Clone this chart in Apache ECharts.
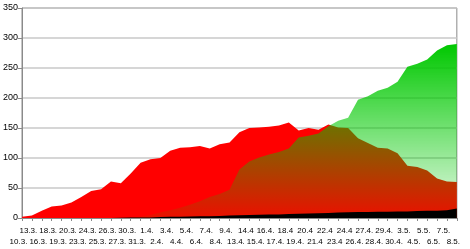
<!DOCTYPE html>
<html><head><meta charset="utf-8">
<script src="https://cdn.jsdelivr.net/npm/echarts@6/dist/echarts.min.js"></script>
<style>html,body{margin:0;padding:0;background:#fff}#c{width:470px;height:249px}</style>
</head><body><div id="c"></div>
<script>
var categories = ["10.3.","13.3.","16.3.","18.3.","19.3.","20.3.","23.3.","24.3.","25.3.","26.3.","27.3.","30.3.","31.3.","1.4.","2.4.","3.4.","4.4.","5.4.","6.4.","7.4.","8.4.","9.4.","13.4.","14.4","15.4.","16.4.","17.4.","18.4","19.4.","20.4","21.4","22.4","23.4","24.4","26.4.","27.4.","28.4.","29.4.","30.4.","3.5.","4.5.","5.5.","6.5.","7.5.","8.5."];
var redValues = [2,4,12,19,21,26,35,45,48,61,58,74,92,98,100,112,117,118,120,116,123,126,143,150,151,152,154,159,146,150,147,156,151,150,133,125,117,116,108,87,85,79,66,61,60];
var greenValues = [0,0,0,0,0,0,0,0,0,0,0,0,2,5,9,13,17,22,28,35,40,47,81,94,101,106,110,116,134,137,141,153,162,167,197,203,212,217,227,252,257,264,279,288,290];
var blackValues = [0,0,0,0,0,0,0,0,0,0,0.5,1,1,1,1.5,2,2,2.5,3,3,3.5,4,4.5,5,5.5,6,6,6.5,7,7.5,8,8.5,9,9.5,10,10,10.5,10.5,11,11,11.5,12,12,13,16];
var yTicks = [0,50,100,150,200,250,300,350];

var chart = echarts.init(document.getElementById('c'), null, {renderer:'canvas'});
chart.setOption({
  animation:false,
  grid:{left:22,right:8,top:8,bottom:31,show:true,borderColor:'#8a8a8a',borderWidth:1,backgroundColor:'transparent'},
  xAxis:{type:'category',data:categories,boundaryGap:false,
    axisLine:{lineStyle:{color:'#8a8a8a',width:1}},
    axisTick:{show:true,interval:0,length:3,lineStyle:{color:'#8a8a8a'}},
    axisLabel:{interval:0,fontSize:8,fontFamily:'Liberation Sans, Arial, sans-serif',color:'#000',margin:7,lineHeight:11,padding:[0,7,0,0],
      formatter:function(v,i){return i%2===1 ? v+'\n ' : ' \n'+v;}},
    splitLine:{show:false}},
  yAxis:{type:'value',min:yTicks[0],max:yTicks[yTicks.length-1],interval:50,
    axisLine:{show:true,lineStyle:{color:'#8a8a8a',width:1}},
    axisTick:{show:true,length:4,lineStyle:{color:'#8a8a8a'}},
    axisLabel:{fontSize:9,fontFamily:'Liberation Sans, Arial, sans-serif',color:'#000',margin:4},
    splitLine:{show:true,lineStyle:{color:'#c8c8c8',width:1.5}}},
  series:[
    {type:'line',data:redValues,symbol:'none',lineStyle:{width:0},itemStyle:{color:'#ff0000'},areaStyle:{color:'#ff0000',opacity:1},z:2},
    {type:'line',data:greenValues,symbol:'none',lineStyle:{width:0},itemStyle:{color:'#00c800'},
      areaStyle:{opacity:1,color:new echarts.graphic.LinearGradient(0,0,0,1,[{offset:0,color:'rgba(0,200,0,1)'},{offset:1,color:'rgba(0,200,0,0.08)'}])},z:3},
    {type:'line',data:blackValues,symbol:'none',lineStyle:{width:0},itemStyle:{color:'#000'},areaStyle:{color:'#000',opacity:1},z:4}
  ]
});
</script></body></html>
